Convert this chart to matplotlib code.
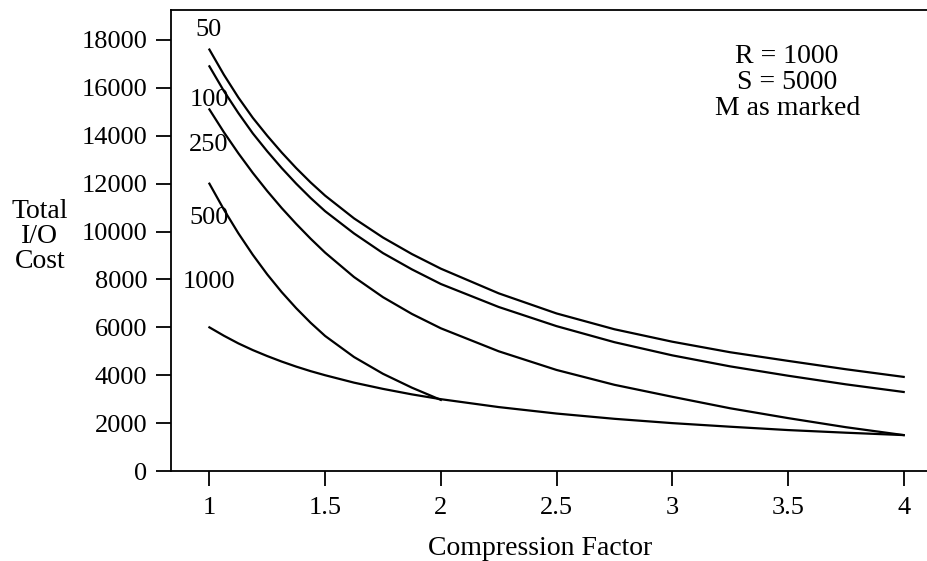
import matplotlib
matplotlib.use("Agg")
import matplotlib.pyplot as plt

plt.rcParams['font.family'] = ['Liberation Serif', 'DejaVu Serif']

# compression factor and total I/O cost
comp = [1, 1.0625, 1.125, 1.1875, 1.25, 1.3125, 1.375, 1.4375, 1.5, 1.625, 1.75, 1.875,
        2, 2.25, 2.5, 2.75, 3, 3.25, 3.5, 3.75, 4]
cost_m50 = [17600, 16550, 15600, 14750, 14000, 13300, 12650, 12050, 11500, 10550, 9750, 9060,
            8450, 7420, 6580, 5920, 5400, 4960, 4600, 4250, 3930]
cost_m100 = [16900, 15870, 14950, 14100, 13350, 12650, 12000, 11400, 10850, 9920, 9100, 8420,
             7810, 6850, 6050, 5380, 4830, 4370, 3980, 3620, 3300]
cost_m250 = [15100, 14150, 13270, 12450, 11690, 10980, 10320, 9700, 9120, 8100, 7260, 6560,
             5960, 5000, 4220, 3600, 3100, 2620, 2210, 1830, 1500]
cost_m1000 = [6000, 5650, 5330, 5050, 4800, 4570, 4360, 4170, 4000, 3690, 3430, 3200,
              3000, 2670, 2400, 2180, 2000, 1850, 1710, 1600, 1500]

comp_m500 = [1, 1.0625, 1.125, 1.1875, 1.25, 1.3125, 1.375, 1.4375, 1.5, 1.625, 1.75, 1.875, 2]
cost_m500 = [12000, 10920, 9930, 9030, 8210, 7470, 6800, 6190, 5640, 4760, 4060, 3480, 2970]

# curve labels (M) and where they sit
labels = ['50', '100', '250', '500', '1000']
label_x = [0.995, 1.0, 0.997, 0.997, 0.997]
label_y = [18410, 15490, 13610, 10560, 7890]

yticks = list(range(0, 18001, 2000))
xticks = [1, 1.5, 2, 2.5, 3, 3.5, 4]
xtick_labels = ['1', '1.5', '2', '2.5', '3', '3.5', '4']

fig = plt.figure(figsize=(9.28, 5.61), dpi=100)
ax = fig.add_axes([0.184, 0.1604, 0.816, 0.8217])

lw = 1.6
ax.plot(comp, cost_m50, color='black', lw=lw)
ax.plot(comp, cost_m100, color='black', lw=lw)
ax.plot(comp, cost_m250, color='black', lw=lw)
ax.plot(comp_m500, cost_m500, color='black', lw=lw)
ax.plot(comp, cost_m1000, color='black', lw=lw)

for lab, lx, ly in zip(labels, label_x, label_y):
    ax.text(lx, ly, lab, fontsize=19, ha='center', va='center')

ax.text(0.814, 0.842, 'R = 1000\nS = 5000\nM as marked', transform=ax.transAxes,
        fontsize=20, ha='center', va='center', linespacing=1.05)

ax.set_xlim(0.833, 4.105)
ax.set_ylim(0, 19250)
ax.set_yticks(yticks)
ax.set_yticklabels([str(v) for v in yticks])
ax.set_xticks(xticks)
ax.set_xticklabels(xtick_labels)

ax.spines['right'].set_visible(False)
for s in ['left', 'bottom', 'top']:
    ax.spines[s].set_linewidth(1.3)

ax.tick_params(axis='y', direction='out', length=11, width=1.3, labelsize=19, pad=6)
ax.tick_params(axis='x', direction='out', length=11, width=1.3, labelsize=19, pad=8)

fig.text(0.582, 0.023, 'Compression Factor', fontsize=20, ha='center', va='center')
fig.text(0.043, 0.579, 'Total\nI/O\nCost', fontsize=20, ha='center', va='center', linespacing=1.0)

fig.savefig('out.png', dpi=100)
